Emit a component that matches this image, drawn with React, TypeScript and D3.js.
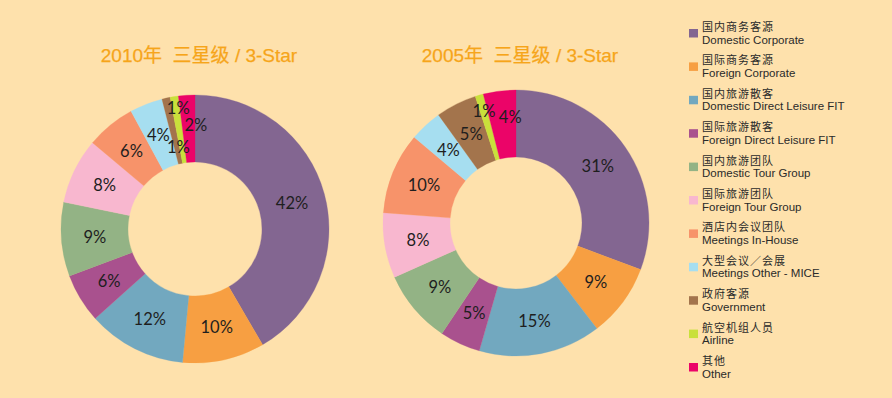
import React from "react";
import * as d3 from "d3";

const categoriesZh = [
  "国内商务客源",
  "国际商务客源",
  "国内旅游散客",
  "国际旅游散客",
  "国内旅游团队",
  "国际旅游团队",
  "酒店内会议团队",
  "大型会议／会展",
  "政府客源",
  "航空机组人员",
  "其他",
];
const categoriesEn = [
  "Domestic Corporate",
  "Foreign Corporate",
  "Domestic Direct Leisure FIT",
  "Foreign Direct Leisure FIT",
  "Domestic Tour Group",
  "Foreign Tour Group",
  "Meetings In-House",
  "Meetings Other - MICE",
  "Government",
  "Airline",
  "Other",
];
const colors = [
  "#836691",
  "#F79F42",
  "#72A8BF",
  "#A9518E",
  "#93B385",
  "#F8B7CF",
  "#F7936A",
  "#A6DEF0",
  "#A3744C",
  "#C9E03B",
  "#EB0468",
];
const values2010 = [42, 10, 12, 6, 9, 8, 6, 4, 1, 1, 2];
const values2005 = [31, 9, 15, 5, 9, 8, 10, 4, 5, 1, 4];
const title2010 = "2010年\u00A0\u00A0三星级 / 3-Star";
const title2005 = "2005年\u00A0\u00A0三星级 / 3-Star";

const W = 892;
const H = 398;
const BG = "#FEE1AC";

type Tweak = { da?: number; r?: number };

function Donut({
  values,
  cx,
  cy,
  outer,
  inner,
  title,
  tweaks,
}: {
  values: number[];
  cx: number;
  cy: number;
  outer: number;
  inner: number;
  title: string;
  tweaks: Record<number, Tweak>;
}) {
  const pie = d3.pie<number>().sort(null).value((d) => d);
  const arcs = pie(values);
  const arc = d3.arc<d3.PieArcDatum<number>>().innerRadius(inner).outerRadius(outer);
  const midR = (inner + outer) / 2;
  return (
    <g>
      <text
        x={cx + 4}
        y={62}
        textAnchor="middle"
        fill="#F6A51A"
        fontSize={19}
        fontFamily="'Liberation Sans', Arial, 'Noto Sans CJK SC', sans-serif"
        stroke="#F6A51A"
        strokeWidth={0.25}
      >
        {title}
      </text>
      <g transform={`translate(${cx},${cy})`}>
        {arcs.map((a, i) => (
          <path key={i} d={arc(a) || ""} fill={colors[i]} stroke={colors[i]} strokeWidth={0.3} />
        ))}
        {arcs.map((a, i) => {
          const t = tweaks[i] || {};
          const ang = (a.startAngle + a.endAngle) / 2 + ((t.da || 0) * Math.PI) / 180;
          const r = t.r ?? midR;
          const x = Math.sin(ang) * r;
          const y = -Math.cos(ang) * r;
          return (
            <text
              key={i}
              x={x}
              y={y}
              dy="0.36em"
              textAnchor="middle"
              fontSize={16.5}
              fill="#1E1E1E"
              fontFamily="Lato, 'Open Sans', sans-serif"
            >
              {`${values[i]}%`}
            </text>
          );
        })}
      </g>
    </g>
  );
}

export default function App() {
  const legendY = d3.scaleLinear().domain([0, 10]).range([29, 363]);
  return (
    <svg
      width={W}
      height={H}
      style={{ position: "absolute", left: 0, top: 0, display: "block" }}
    >
      <rect x={0} y={0} width={W} height={H} fill={BG} />
      <Donut
        values={values2010}
        cx={195}
        cy={229}
        outer={134}
        inner={67}
        title={title2010}
        tweaks={{ 8: { da: 1, r: 84 }, 9: { da: 1, r: 122 }, 10: { da: 4, r: 104 } }}
      />
      <Donut
        values={values2005}
        cx={516}
        cy={223}
        outer={133}
        inner={66}
        title={title2005}
        tweaks={{ 9: { r: 116 }, 10: { da: 4, r: 106 } }}
      />
      <g>
        {categoriesEn.map((en, i) => {
          const y = legendY(i);
          return (
            <g key={i}>
              <rect x={689} y={y} width={9} height={8.5} fill={colors[i]} />
              <text
                x={702}
                y={y + 2}
                fontSize={11}
                fill="#2A2A2A"
                fontFamily="'Noto Sans CJK SC', sans-serif"
                letterSpacing={1}
              >
                {categoriesZh[i]}
              </text>
              <text
                x={702}
                y={y + 14.5}
                fontSize={11.5}
                fill="#2A2A2A"
                fontFamily="'Liberation Sans', Arial, sans-serif"
              >
                {en}
              </text>
            </g>
          );
        })}
      </g>
    </svg>
  );
}
